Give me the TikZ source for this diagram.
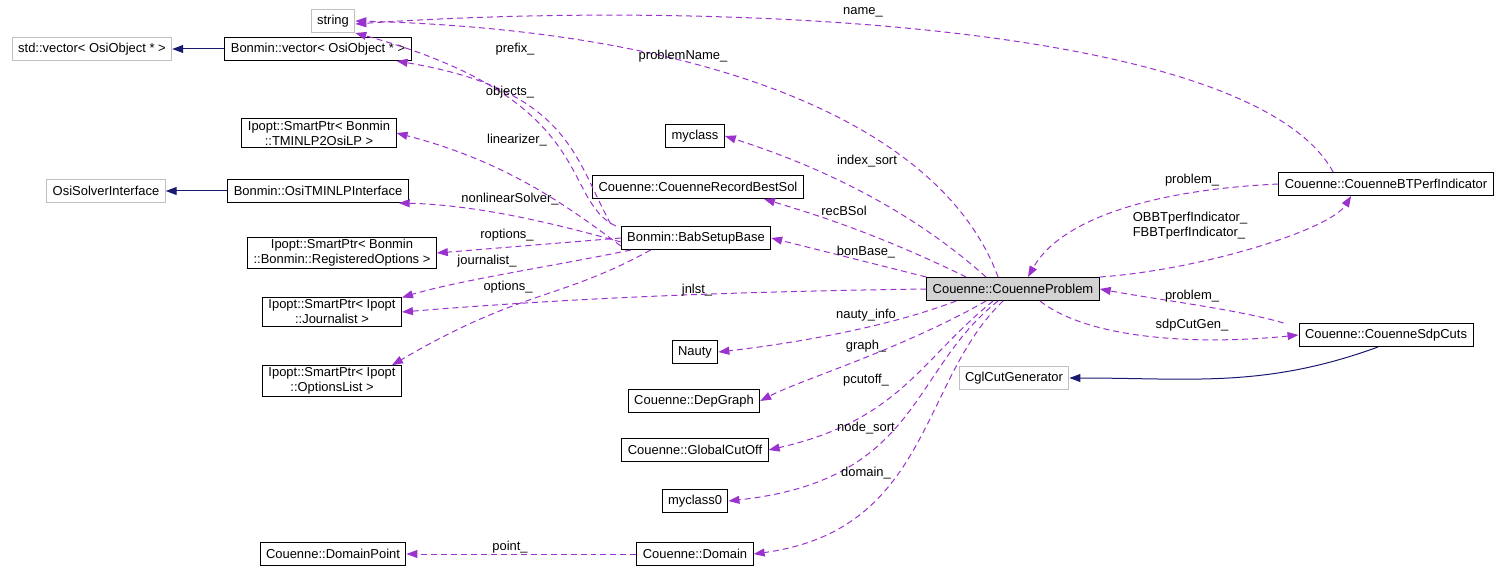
\documentclass[tikz,border=0pt]{standalone}
\usepackage{fontspec}
\setmainfont{Liberation Sans}
\usetikzlibrary{arrows.meta}
\definecolor{usecol}{HTML}{9A32CD}
\definecolor{inhcol}{HTML}{191970}
\definecolor{extcol}{HTML}{BFBFBF}
\tikzset{
  cls/.style={draw=black, fill=white, line width=1bp, inner xsep=6pt, inner ysep=2pt, font=\fontsize{13}{15}\selectfont, align=center, minimum height=23bp},
  ext/.style={cls, draw=extcol},
  cur/.style={cls, fill=extcol!70},
  use/.style={usecol, line width=1bp, dash pattern=on 6pt off 4pt, -{Triangle[length=11pt,width=8pt]}},
  inh/.style={inhcol, line width=1bp, -{Triangle[length=11pt,width=8pt]}},
  lbl/.style={font=\fontsize{13}{15}\selectfont, align=left, inner sep=0pt},
}
\begin{document}
\begin{tikzpicture}[x=1bp,y=-1bp]
\useasboundingbox (0,0) rectangle (1507,573);

% classes
\node[ext] (string) at (333,21) {string};
\node[ext] (stdvec) at (92,49) {std::vector\textless{} OsiObject * \textgreater};
\node[cls] (bvec) at (318,49) {Bonmin::vector\textless{} OsiObject * \textgreater};
\node[cls] (lp) at (319,133) {Ipopt::SmartPtr\textless{} Bonmin\\::TMINLP2OsiLP \textgreater};
\node[ext] (osi) at (106,191) {OsiSolverInterface};
\node[cls] (tminlp) at (318,191) {Bonmin::OsiTMINLPInterface};
\node[cls] (ropt) at (342,253) {Ipopt::SmartPtr\textless{} Bonmin\\::Bonmin::RegisteredOptions \textgreater};
\node[cls] (jour) at (332,312) {Ipopt::SmartPtr\textless{} Ipopt\\::Journalist \textgreater};
\node[cls] (olist) at (332,381) {Ipopt::SmartPtr\textless{} Ipopt\\::OptionsList \textgreater};
\node[cls] (dpoint) at (333,554) {Couenne::DomainPoint};
\node[cls] (myclass) at (695,136) {myclass};
\node[cls] (rbest) at (698,187) {Couenne::CouenneRecordBestSol};
\node[cls] (bab) at (696,238) {Bonmin::BabSetupBase};
\node[cls] (nauty) at (695,352) {Nauty};
\node[cls] (dep) at (694,401) {Couenne::DepGraph};
\node[cls] (gcut) at (695,450) {Couenne::GlobalCutOff};
\node[cls] (myclass0) at (695,501) {myclass0};
\node[cls] (dom) at (695,554) {Couenne::Domain};
\node[cur] (prob) at (1013,289) {Couenne::CouenneProblem};
\node[cls] (btperf) at (1386,184) {Couenne::CouenneBTPerfIndicator};
\node[cls] (sdp) at (1386,335) {Couenne::CouenneSdpCuts};
\node[ext] (cgl) at (1014,378) {CglCutGenerator};

% inheritance
\draw[inh] (bvec) -- (stdvec);
\draw[inh] (tminlp) -- (osi);
\draw[inh] ([xshift=-8]sdp.south) to[out=200,in=0] (cgl);

% usage
\draw[use] ([xshift=-15]prob.north) .. controls (940,120) and (700,30) .. (string.east);
\draw[use] ([xshift=55]btperf.north west) .. controls (1250,20) and (700,0) .. ([yshift=-3]string.east);
\draw[use] ([xshift=-5]bab.north west) .. controls (560,200) and (600,100) .. (string.south east);
\draw[use] ([xshift=-10,yshift=2]bab.north west) .. controls (575,160) and (570,90) .. ([xshift=-15]bvec.south east);
\draw[use] ([yshift=-8]bab.west) .. controls (560,200) and (500,160) .. (lp.east);
\draw[use] ([yshift=-4]bab.west) .. controls (560,225) and (480,205) .. ([xshift=-10]tminlp.south east);
\draw[use] (bab.west) -- (ropt.east);
\draw[use] ([xshift=10]bab.south west) .. controls (560,265) and (460,280) .. (jour.north east);
\draw[use] ([xshift=30]bab.south west) .. controls (560,300) and (520,290) .. ([xshift=-10]olist.north east);
\draw[use] ([xshift=60]prob.north west) .. controls (900,200) and (800,160) .. (myclass.east);
\draw[use] ([xshift=40]prob.north west) .. controls (870,230) and (800,210) .. ([xshift=-40]rbest.south east);
\draw[use] (prob.north west) -- (bab.east);
\draw[use] (prob.west) .. controls (700,292) and (550,300) .. (jour.east);
\draw[use] ([xshift=30]prob.south west) .. controls (880,330) and (780,345) .. (nauty.east);
\draw[use] ([xshift=60]prob.south west) .. controls (900,350) and (800,380) .. (dep.east);
\draw[use] ([xshift=-20]prob.south) .. controls (920,360) and (900,420) .. (gcut.east);
\draw[use] ([xshift=-15]prob.south) .. controls (910,370) and (920,480) .. (myclass0.east);
\draw[use] ([xshift=-10]prob.south) .. controls (920,380) and (930,530) .. (dom.east);
\draw[use] (dom) -- (dpoint);
\draw[use] (btperf.west) .. controls (1150,190) and (1060,220) .. ([xshift=15]prob.north);
\draw[use] (prob.north east) .. controls (1200,270) and (1330,230) .. ([xshift=-35]btperf.south);
\draw[use] ([xshift=-15]sdp.north west) .. controls (1240,310) and (1160,300) .. (prob.east);
\draw[use] ([xshift=-60]prob.south east) .. controls (1090,340) and (1200,345) .. (sdp.west);

% labels
\node[lbl] (lprobname) at (683,56) {problemName\_};
\node[lbl] (lname) at (863,12) {name\_};
\node[lbl] (lprefix) at (515,49) {prefix\_};
\node[lbl] (lobjects) at (510,92) {objects\_};
\node[lbl] (llin) at (517,140) {linearizer\_};
\node[lbl] (lnls) at (510,199) {nonlinearSolver\_};
\node[lbl] (lropt) at (507,235) {roptions\_};
\node[lbl] (ljour) at (487,261) {journalist\_};
\node[lbl] (lopt) at (508,287) {options\_};
\node[lbl] (lidx) at (867,161) {index\_sort};
\node[lbl] (lrec) at (844,211) {recBSol};
\node[lbl] (lbon) at (866,252) {bonBase\_};
\node[lbl] (ljnl) at (697,290) {jnlst\_};
\node[lbl] (lnauty) at (866,315) {nauty\_info};
\node[lbl] (lgraph) at (866,346) {graph\_};
\node[lbl] (lpcut) at (866,380) {pcutoff\_};
\node[lbl] (lnode) at (866,428) {node\_sort};
\node[lbl] (ldom) at (866,473) {domain\_};
\node[lbl] (lpoint) at (510,547) {point\_};
\node[lbl] (lprob1) at (1192,180) {problem\_};
\node[lbl] (lbt) at (1190,226) {OBBTperfIndicator\_\\FBBTperfIndicator\_};
\node[lbl] (lprob2) at (1192,296) {problem\_};
\node[lbl] (lsdp) at (1192,325) {sdpCutGen\_};
\end{tikzpicture}
\end{document}
